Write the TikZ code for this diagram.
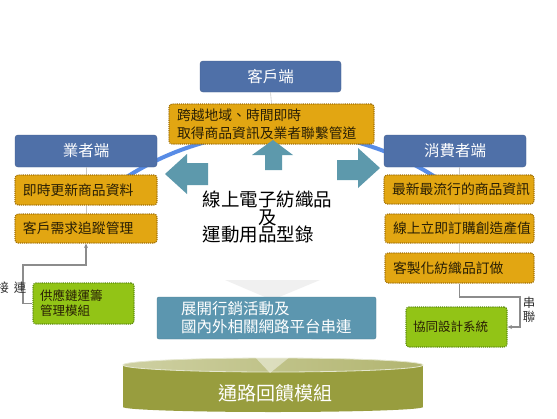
\documentclass[tikz,border=0pt]{standalone}
\usepackage{fontspec}
\setmainfont{Noto Sans CJK TC}
\usetikzlibrary{arrows.meta,calc}
\definecolor{titleblue}{RGB}{79,112,168}
\definecolor{ofill}{RGB}{226,166,18}
\definecolor{oborder}{RGB}{160,112,8}
\definecolor{gfill}{RGB}{146,196,22}
\definecolor{gborder}{RGB}{92,138,14}
\definecolor{arrteal}{RGB}{93,153,172}
\definecolor{tealbox}{RGB}{92,150,175}
\definecolor{arcblue}{RGB}{88,140,230}
\definecolor{olivebody}{RGB}{152,157,62}
\definecolor{olivetopL}{RGB}{206,208,162}
\definecolor{olivetopR}{RGB}{178,181,112}
\definecolor{conngray}{RGB}{140,140,140}
\definecolor{darktext}{RGB}{40,30,5}
\begin{document}
\begin{tikzpicture}[x=1pt,y=-1pt,
  titlebox/.style={draw=titleblue!85!black, line width=0.4pt, fill=titleblue, rounded corners=3pt,
    text=white, font=\fontsize{15.5}{18}\selectfont, inner sep=0pt},
  obox/.style={draw=oborder, densely dotted, line width=1.1pt, fill=ofill, rounded corners=3pt,
    text=darktext, font=\fontsize{13.8}{18}\selectfont, align=left, inner xsep=8pt, inner ysep=0pt},
  gbox/.style={draw=gborder, densely dotted, line width=1.1pt, fill=gfill, rounded corners=3pt,
    text=darktext, font=\fontsize{12.5}{15}\selectfont, align=left, inner xsep=7pt, inner ysep=0pt},
  tbox/.style={draw=tealbox!85!black, line width=0.4pt, fill=tealbox, rounded corners=2pt,
    text=white, font=\fontsize{15.5}{18}\selectfont, align=left, inner xsep=24pt, inner ysep=0pt},
  bigtxt/.style={inner sep=0pt, font=\fontsize{18.5}{17.5}\selectfont, text=black, align=left},
  lbl/.style={inner sep=0pt, font=\fontsize{12.5}{14}\selectfont, text=black!80},
  hline/.style={draw=black!22, line width=0.6pt},
  conn/.style={draw=conngray, line width=1.1pt, -{Stealth[length=4.5pt,width=4pt]}},
  arrshape/.style={fill=arrteal}
]
\useasboundingbox (0,0) rectangle (557,418);
\fill[white] (0,0) rectangle (557,418);

% background arc
\draw[arcblue, line width=4pt] (281,419) ++(-123:287) arc[start angle=-123, end angle=-57, radius=287];

% title boxes and hierarchy
\node[titlebox, minimum width=141, minimum height=31] (kh) at (270.5,76.5) {客戶端};
\node[obox, text width=189, minimum height=40] (kh1) at (271.5,124) {跨越地域、時間即時\\取得商品資訊及業者聯繫管道};
\node[titlebox, minimum width=142, minimum height=32] (yz) at (86,151) {業者端};
\node[obox, text width=126, minimum height=30] (yz1) at (86,190) {即時更新商品資料};
\node[obox, text width=126, minimum height=29] (yz2) at (86,228.5) {客戶需求追蹤管理};
\node[titlebox, minimum width=142, minimum height=32] (xf) at (455,151) {消費者端};
\node[obox, text width=134, minimum height=29] (xf1) at (459,189.5) {最新最流行的商品資訊};
\node[obox, text width=133, minimum height=29] (xf2) at (459.5,228.5) {線上立即訂購創造產值};
\node[obox, text width=133, minimum height=30] (xf3) at (459.5,268) {客製化紡織品訂做};

\draw[hline] (kh.south) -- (kh1.north);
\draw[hline] (yz.south) -- (yz1.north);
\draw[hline] (yz1.south) -- (yz2.north);
\draw[hline] (xf1.north |- xf.south) -- (xf1.north);
\draw[hline] (xf1.south) -- (xf2.north);
\draw[hline] (xf2.south) -- (xf3.north);

% green modules
\node[gbox, text width=87, minimum height=41] (g1) at (83.5,303.5) {供應鏈運籌\\管理模組};
\node[gbox, text width=87, minimum height=40] (g2) at (456.5,327) {協同設計系統};

% connectors
\coordinate (lc1) at (23,305);
\coordinate (lc2) at (23,265);
\draw[conn] (g1.west) -- (g1.west -| lc1) -- (lc2) -- (lc2 -| yz2.south) -- (yz2.south);
\coordinate (rc) at (520,297);
\draw[conn] (xf3.south) -- (xf3.south |- rc) -- (rc) -- (rc |- g2.east) -- (g2.east);
\node[lbl, anchor=east] (jl) at (26.5,288) {接\hspace{5pt}連};
\node[lbl, align=center] (cl) at (529,310) {串\\聯};

% teal arrows
\fill[arrshape] (165,174) -- (187,154) -- (187,163) -- (208,163) -- (208,185) -- (187,185) -- (187,194) -- cycle;
\fill[arrshape] (273,140) -- (293,155) -- (282,155) -- (282,170) -- (265,170) -- (265,155) -- (252,155) -- cycle;
\fill[arrshape] (380,168) -- (358,148) -- (358,160) -- (337,160) -- (337,180) -- (358,180) -- (358,188) -- cycle;

% centre text
\node[bigtxt, anchor=west] (ct) at (202.5,217) {線上電子紡織品\\\hspace*{3em}及\\運動用品型錄};

% faint chevron above teal box
\fill[black!6] (225,280) -- (320,280) -- (272,300) -- cycle;
\node[tbox, text width=171, minimum width=219, minimum height=42] (tb) at (266.5,318) {展開行銷活動及\\國內外相關網路平台串連};

% cylinder
\fill[olivebody] (123,365) rectangle (423,407);
\fill[olivebody] (273,407) ellipse[x radius=150, y radius=5];
\shade[left color=olivetopL, right color=olivetopR] (273,365) ellipse[x radius=150, y radius=7];
\draw[white!75!olivebody, line width=0.8pt] (273,365) ellipse[x radius=150, y radius=7];
\fill[white, opacity=0.45] (238,339) -- (312,339) -- (270,373) -- cycle;
\node[inner sep=0pt, font=\fontsize{19}{20}\selectfont, text=white] (cyl) at (275,393) {通路回饋模組};
\end{tikzpicture}
\end{document}
